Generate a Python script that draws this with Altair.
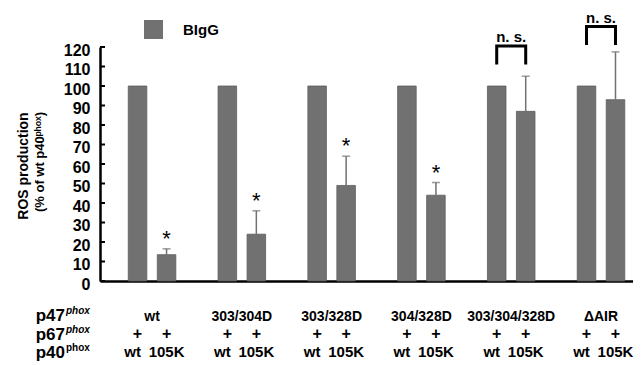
import altair as alt
import pandas as pd

# ---- data ----
groups = ["wt", "303/304D", "303/328D", "304/328D", "303/304/328D", "ΔAIR"]
p40_forms = ["wt", "105K"]
wt_values = [100, 100, 100, 100, 100, 100]
k105_values = [13.5, 24, 49, 44, 87, 93]
k105_errors = [3, 12, 15, 6.5, 18, 24.5]
significance = ["*", "*", "*", "*", "n. s.", "n. s."]
bracket_base = [None, None, None, None, 111, 121]
y_ticks = [0, 10, 20, 30, 40, 50, 60, 70, 80, 90, 100, 110, 120]
legend_label = "BIgG"

FONT = "Liberation Sans"
BAR = "#717171"

rows = []
for g, wv, kv, ke in zip(groups, wt_values, k105_values, k105_errors):
    rows.append(dict(group=g, p40="wt", value=wv, err=None, top=None, series=legend_label))
    rows.append(dict(group=g, p40="105K", value=kv, err=ke, top=kv + ke, series=legend_label))
df = pd.DataFrame(rows)
err_df = df[df.p40 == "105K"].copy()
star_df = err_df.copy()
star_df["sig"] = significance
ast_df = star_df[star_df.sig == "*"]

br_rows, ns_rows = [], []
for g, sig, b in zip(groups, significance, bracket_base):
    if b is None:
        continue
    hi = b + 9.5
    br_rows += [dict(group=g, p40="wt", y=b, o=0), dict(group=g, p40="wt", y=hi, o=1),
                dict(group=g, p40="105K", y=hi, o=2), dict(group=g, p40="105K", y=b, o=3)]
    ns_rows.append(dict(group=g, y=hi, sig=sig))
br_df = pd.DataFrame(br_rows)
ns_df = pd.DataFrame(ns_rows)
tick_df = pd.DataFrame({"t": y_ticks})
grp_df = pd.DataFrame({"group": groups})

X = alt.X("group:N", sort=groups,
          scale=alt.Scale(paddingInner=0.354, paddingOuter=0.145, align=0.885),
          axis=alt.Axis(labels=False, ticks=False, title=None, domainColor="black",
                        domainWidth=2.5, grid=False))
XO = alt.XOffset("p40:N", sort=p40_forms, scale=alt.Scale(paddingInner=0.36, paddingOuter=0.18))
YSC = alt.Scale(domain=[0, 120], nice=False, zero=True)
YAX = alt.Axis(values=y_ticks, ticks=False, title=None, grid=False, domainColor="black",
               domainWidth=2.5, labelFont=FONT, labelFontSize=16, labelFontWeight="bold",
               labelColor="black", labelPadding=10, labelOffset=3, labelOverlap=False,
               labelBound=False, labelFlush=False)


def Y(field):
    return alt.Y(field, scale=YSC, axis=YAX)


bars = alt.Chart(df).mark_bar(stroke="#5e5e5e", strokeWidth=0.8).encode(
    x=X, xOffset=XO,
    y=Y("value:Q"),
    color=alt.Color("series:N", scale=alt.Scale(domain=[legend_label], range=[BAR]),
                    legend=alt.Legend(orient="none", legendX=44, legendY=-27, title=None,
                                      symbolType="square", symbolSize=361, symbolStrokeWidth=0,
                                      labelFont=FONT, labelFontSize=15, labelFontWeight="bold",
                                      labelColor="black", labelOffset=20, padding=0)),
)

err_rule = alt.Chart(err_df).mark_rule(color=BAR, strokeWidth=1.5).encode(
    x=X, xOffset=XO, y=Y("value:Q"), y2="top:Q")
err_cap = alt.Chart(err_df).mark_tick(color=BAR, thickness=1.5, size=8, orient="horizontal").encode(
    x=X, xOffset=XO, y=Y("top:Q"))

stars = alt.Chart(ast_df).mark_text(font=FONT, fontSize=22, color="black", baseline="alphabetic",
                                    dy=-3).encode(
    x=X, xOffset=XO, y=Y("top:Q"), text="sig:N")

brackets = alt.Chart(br_df).mark_line(color="black", strokeWidth=3, strokeCap="butt").encode(
    x=X, xOffset=XO, y=Y("y:Q"), order="o:Q", detail="group:N")
ns_text = alt.Chart(ns_df).mark_text(font=FONT, fontSize=15, fontWeight="bold", color="black",
                                     baseline="middle", dy=-9).encode(
    x=X, y=Y("y:Q"), text="sig:N")

yticks = alt.Chart(tick_df).mark_rule(color="black", strokeWidth=2).encode(
    x=alt.value(0), x2=alt.value(5), y=Y("t:Q"))

grp_labels = alt.Chart(grp_df).mark_text(font=FONT, fontSize=14, fontWeight="bold", color="black",
                                         baseline="middle").encode(
    x=X, y=alt.value(270), text="group:N")
plus_labels = alt.Chart(df).mark_text(font=FONT, fontSize=16, fontWeight="bold", color="black",
                                      baseline="middle", text="+").encode(
    x=X, xOffset=XO, y=alt.value(287))
wt_df = df[df.p40 == "wt"]
k_df = df[df.p40 == "105K"]
p40_wt = alt.Chart(wt_df).mark_text(font=FONT, fontSize=15, fontWeight="bold", color="black",
                                    baseline="middle", dx=-5).encode(
    x=X, xOffset=XO, y=alt.value(305), text="p40:N")
p40_k = alt.Chart(k_df).mark_text(font=FONT, fontSize=15, fontWeight="bold", color="black",
                                  baseline="middle").encode(
    x=X, xOffset=XO, y=alt.value(305), text="p40:N")

row_names = pd.DataFrame({"name": ["p47", "p67", "p40"], "sup": ["phox", "phox", "phox"],
                          "ital": ["italic", "italic", "normal"]})
row_y = [269, 288, 306]
row_layers = []
for i in range(3):
    d = row_names.iloc[[i]]
    row_layers.append(alt.Chart(d).mark_text(font=FONT, fontSize=17, fontWeight="bold", color="black",
                                             align="right", baseline="middle").encode(
        x=alt.value(-35), y=alt.value(row_y[i]), text="name:N"))
    row_layers.append(alt.Chart(d).mark_text(font=FONT, fontSize=10, fontWeight="bold", color="black",
                                             align="left", baseline="middle",
                                             fontStyle=row_names.ital[i]).encode(
        x=alt.value(-34), y=alt.value(row_y[i] - 5), text="sup:N"))

title_df = pd.DataFrame({"t1": ["ROS  production"], "t2": ["(% of wt p40ᵖʰᵒˣ)"]})
title1 = alt.Chart(title_df).mark_text(font=FONT, fontSize=14, fontWeight="bold", color="black",
                                       angle=270, baseline="middle", align="center").encode(
    x=alt.value(-76), y=alt.value(119), text="t1:N")
title2 = alt.Chart(title_df).mark_text(font=FONT, fontSize=13, fontWeight="bold", color="black",
                                       angle=270, baseline="middle", align="center").encode(
    x=alt.value(-60), y=alt.value(115), text="t2:N")

chart = alt.layer(bars, err_rule, err_cap, stars, brackets, ns_text, yticks, grp_labels,
                  plus_labels, p40_wt, p40_k, *row_layers, title1, title2).properties(
    width=533, height=234,
    autosize=alt.AutoSizeParams(type="none"),
    padding={"left": 92, "top": 39, "right": 0, "bottom": 82},
).configure_view(stroke=None).configure_axisY(labelOverlap=False)

chart.save("out.html", embed_options={"renderer": "svg", "actions": False})
